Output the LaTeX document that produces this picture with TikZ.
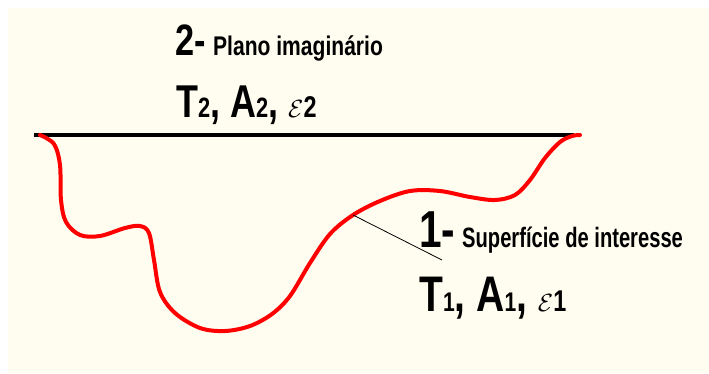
\documentclass[tikz,border=0pt]{standalone}
\usepackage{fontspec}
\setmainfont{Liberation Sans}
\newfontfamily\nar[FakeStretch=0.78]{Liberation Sans}
\newfontfamily\nnar[FakeStretch=0.72]{Liberation Sans}
\newcommand\fsz[1]{\fontsize{#1}{#1}\selectfont}
\definecolor{cream}{HTML}{FFFCF0}
\definecolor{curvered}{HTML}{FF0000}
\begin{document}
\begin{tikzpicture}[x=1pt,y=-1pt,
  lbl/.style={inner sep=0pt, anchor=base west},
  surface/.style={curvered, line width=4pt, line cap=round, line join=round},
  plane/.style={black, line width=3.5pt},
  leader/.style={black, line width=0.8pt}]
\useasboundingbox (0,0) rectangle (709,373);
\fill[white] (0,0) rectangle (709,373);
\fill[cream] (8,8) rectangle (709,373);

% imaginary plane
\coordinate (pl) at (34,135);
\coordinate (pr) at (574,135);
\draw[plane] (pl) -- (pr);

% surface of interest
\draw[surface] plot[smooth, tension=0.55] coordinates {
 (40,135) (54,144) (60,165) (61,200) (66,222) (80,235) (100,236) (125,228)
 (140,226) (149,233) (154,260) (160,292) (175,313) (200,328) (225,331)
 (250,326) (272,314) (290,296) (310,263) (330,234) (353,215) (380,201)
 (410,191) (440,191) (470,197) (495,200) (515,195) (530,180) (545,158)
 (560,142) (572,136) (580,135)};

% labels
\node[lbl, font={\nar\bfseries\fsz{44}}] (n2) at (175,55) {2-};
\node[lbl, font={\nar\bfseries\fsz{27}}] (p2) at (213,55) {Plano imaginário};
\node[lbl, font={\nar\bfseries\fsz{46}}] (t2) at (176,117)
  {T{\fsz{28}2}, A{\fsz{28}2}, {\fsz{38}$\mathcal{E}$}{\fsz{30}2}};

\node[lbl, font={\nar\bfseries\fsz{52}}] (n1) at (419,247) {1-};
\node[lbl, font={\nnar\bfseries\fsz{28}}] (s1) at (462,247) {Superfície de interesse};
\node[lbl, font={\nar\bfseries\fsz{50}}] (t1) at (419,311)
  {T{\fsz{27}1}, A{\fsz{27}1}, {\fsz{37}$\mathcal{E}$}{\fsz{30}1}};

% leader
\coordinate (la) at (353,215);
\coordinate (lb) at (442,260);
\draw[leader] (la) -- (lb);
\end{tikzpicture}
\end{document}
